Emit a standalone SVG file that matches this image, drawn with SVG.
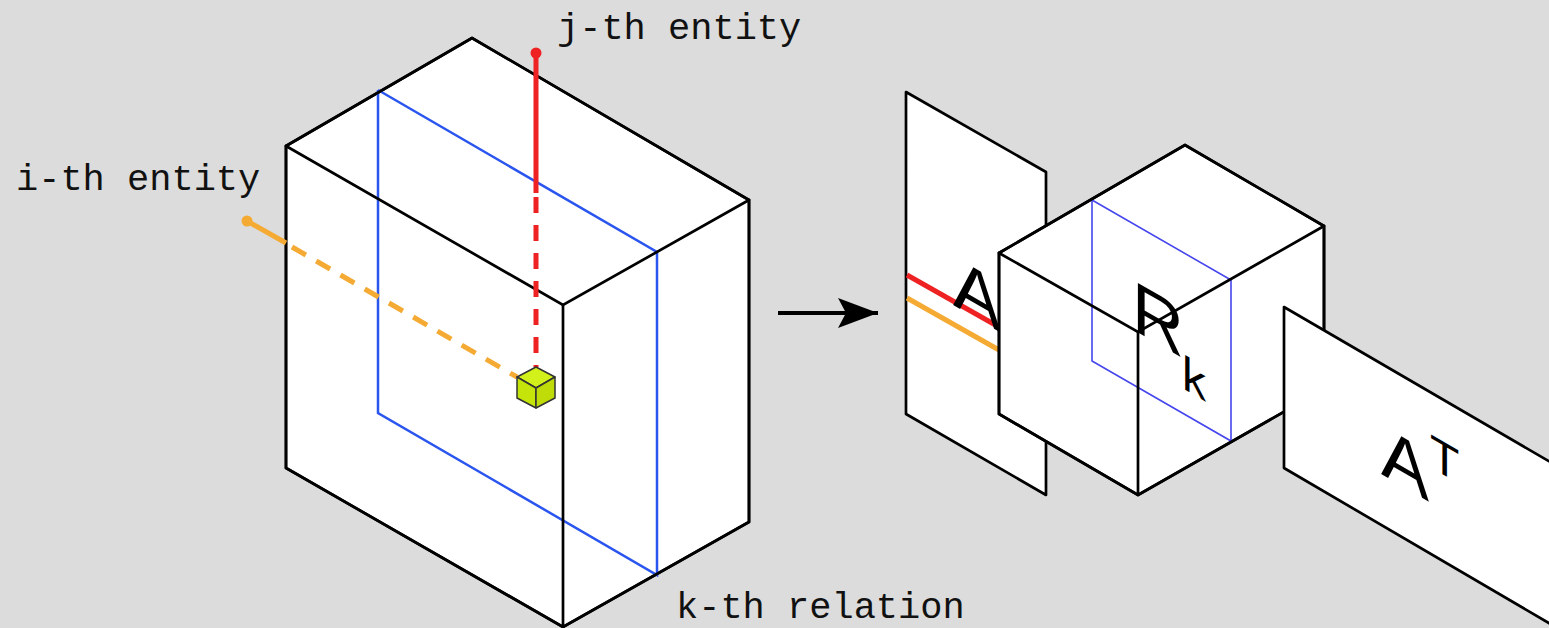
<svg xmlns="http://www.w3.org/2000/svg" width="1549" height="628" viewBox="0 0 1549 628">
<defs>
<style>
.face{fill:#ffffff;stroke:#000;stroke-width:2.7;stroke-linejoin:round}
.edge{fill:none;stroke:#000;stroke-width:2.7;stroke-linecap:round}
.blue1{fill:none;stroke:#2a55ee;stroke-width:2.5}
.blue2{fill:none;stroke:#4646ee;stroke-width:1.6}
.lbl{font-family:"Liberation Mono","Courier New",monospace;font-size:37px;fill:#111}
.big{font-family:"Liberation Sans",Arial,sans-serif;fill:#000}
.red{stroke:#ee2222;stroke-width:5;fill:none}
.org{stroke:#f4aa33;stroke-width:5;fill:none}
.dash{stroke-dasharray:16 12}
.gc{stroke:#333;stroke-width:1.5;stroke-linejoin:round}
</style>
<marker id="ah" markerWidth="42" markerHeight="32" refX="40" refY="16" orient="auto" markerUnits="userSpaceOnUse">
<path d="M0,1 L40,16 L0,31 L8,16 Z" fill="#000"/>
</marker>
</defs>
<rect x="0" y="0" width="1549" height="628" fill="#dcdcdc"/>

<g id="tensor">
<polygon class="face" points="286,146 472,38 749,200 749,522 563,627 286,468"/>
<polyline class="blue1" points="378,90 657,252 657,575 378,413 378,90"/>
<polyline class="edge" points="286,146 563,305 749,200"/>
<line class="edge" x1="563" y1="305" x2="563" y2="627"/>
<polygon class="edge" points="286,146 472,38 749,200 749,522 563,627 286,468"/>
</g>

<g id="j-entity">
<circle cx="536" cy="53" r="5.5" fill="#ee2222"/>
<line class="red" x1="536" y1="53" x2="536" y2="193"/>
<line class="red dash" x1="536" y1="197" x2="536" y2="367"/>
<text class="lbl" x="557" y="39">j-th entity</text>
</g>

<g id="i-entity">
<circle cx="247" cy="221" r="5.5" fill="#f4aa33"/>
<line class="org" x1="247" y1="221" x2="286" y2="243"/>
<line class="org dash" x1="292" y1="247" x2="517" y2="377"/>
<text class="lbl" x="16" y="190">i-th entity</text>
</g>

<g id="cell">
<polygon class="gc" fill="#d2f01a" points="536,367 555,377 536,388 517,377"/>
<polygon class="gc" fill="#c4e40a" points="517,377 536,388 536,408 517,398"/>
<polygon class="gc" fill="#bfdc08" points="536,388 555,377 555,398 536,408"/>
</g>

<g id="k-relation">
<text class="lbl" x="676" y="618">k-th relation</text>
</g>

<g id="connectors">
<line x1="778" y1="313" x2="878" y2="313" stroke="#000" stroke-width="4" marker-end="url(#ah)"/>
</g>

<g id="matrix-A">
<polygon class="face" points="906,92 1046,172 1046,495 906,414"/>
<line class="red" x1="907" y1="275" x2="999" y2="327"/>
<line class="org" x1="907" y1="298" x2="999" y2="350"/>
<text class="big" font-size="72" transform="translate(953,305) skewY(30)">A</text>
</g>

<g id="core-Rk">
<polygon class="face" points="999,253 1185,145 1324,226 1324,389 1138,495 999,414"/>
<polyline class="blue2" points="1092,200 1231,280 1231,441 1092,361 1092,200"/>
<polyline class="edge" points="999,253 1138,332 1324,226"/>
<line class="edge" x1="1138" y1="332" x2="1138" y2="495"/>
<polygon class="edge" points="999,253 1185,145 1324,226 1324,389 1138,495 999,414"/>
<text class="big" font-size="72" transform="translate(1132,329) skewY(30)">R</text>
<text class="big" font-size="48" transform="translate(1182,388) skewY(30)">k</text>
</g>

<g id="matrix-AT">
<polygon class="face" points="1284,307 1600,491 1600,653 1284,468"/>
<text class="big" font-size="72" transform="translate(1381,474) skewY(30)">A</text>
<text class="big" font-size="48" transform="translate(1430,467) skewY(30)">T</text>
</g>
</svg>
